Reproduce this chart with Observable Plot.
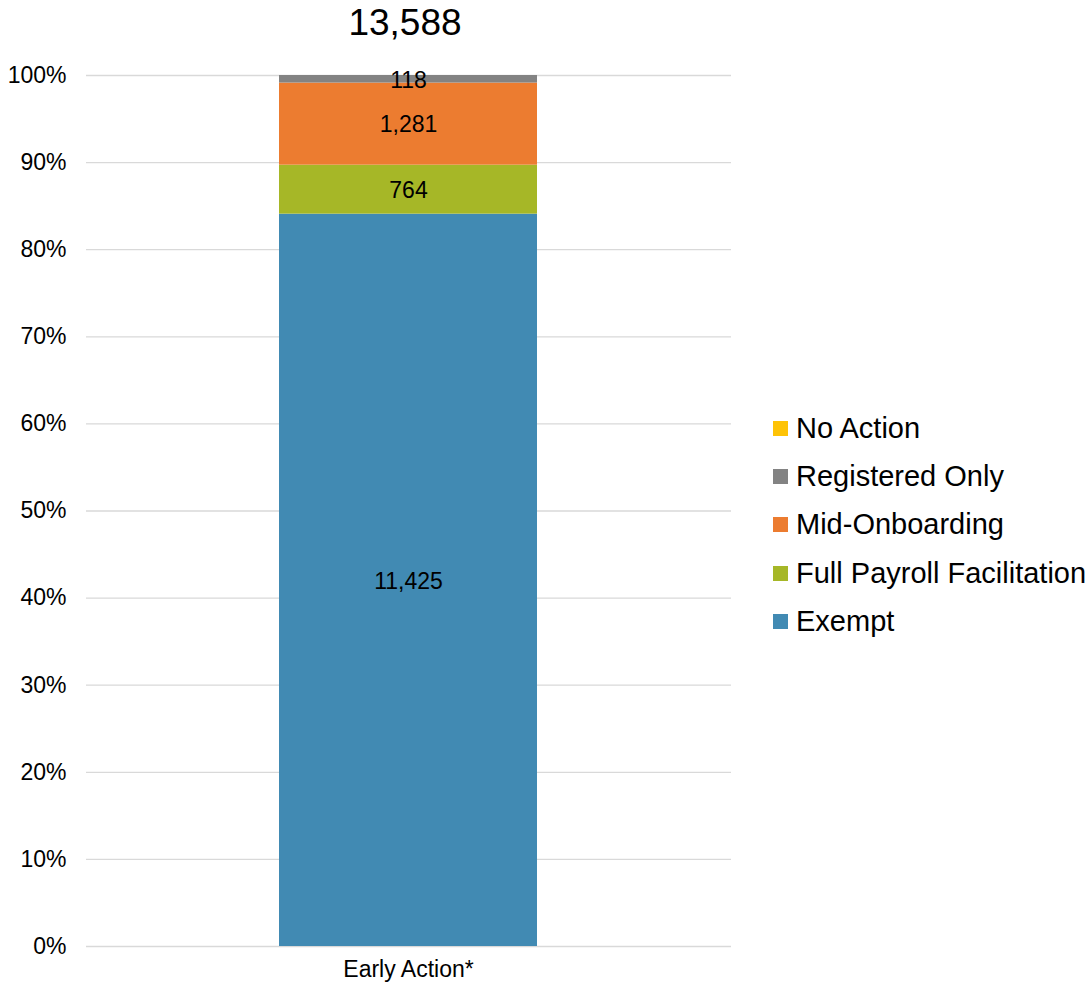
<!DOCTYPE html>
<html><head><meta charset="utf-8">
<script src="https://cdn.jsdelivr.net/npm/d3@7"></script>
<script src="https://cdn.jsdelivr.net/npm/@observablehq/plot@0.6"></script>
<style>
body{margin:0;background:#fff;font-family:"Liberation Sans",Arial,sans-serif;}
#wrap{position:relative;width:1089px;height:987px;}
#title{position:absolute;left:0;width:810px;top:0;text-align:center;font-size:37px;line-height:46px;color:#000;}
#legend{position:absolute;left:773px;top:404px;}
.li{display:flex;align-items:center;height:48.3px;font-size:29px;color:#000;white-space:nowrap;}
.sw{width:15px;height:15px;margin-right:8px;}
svg text{font-family:"Liberation Sans",Arial,sans-serif;}
</style></head>
<body><div id="wrap"><div id="title"></div><div id="chart"></div><div id="legend"></div></div>
<script>
const categories = ["Early Action*"];
const series = ["Exempt", "Full Payroll Facilitation", "Mid-Onboarding", "Registered Only", "No Action"];
const values = [11425, 764, 1281, 118, 0];
const colors = ["#418AB3", "#A6B727", "#EC7C30", "#838383", "#FEC306"];
const yTicks = [0,0.1,0.2,0.3,0.4,0.5,0.6,0.7,0.8,0.9,1];

const total = d3.sum(values);
const data = series.map((s,i)=>({cat:categories[0], series:s, value:values[i], order:i}));
document.getElementById("title").textContent = d3.format(",")(total);

const chart = Plot.plot({
  width:1089, height:987,
  marginLeft:86, marginRight:358, marginTop:75, marginBottom:41,
  style:{fontSize:"23px", fontFamily:"Liberation Sans, Arial, sans-serif", color:"#000", background:"#fff"},
  x:{domain:categories, padding:0.427, label:null, tickSize:0, tickPadding:14},
  y:{domain:[0,1], ticks:yTicks, tickFormat:d=>Math.round(d*100)+"%", label:null, tickSize:0, tickPadding:20},
  color:{domain:series, range:colors},
  marks:[
    Plot.gridY(yTicks,{stroke:"#d9d9d9", strokeOpacity:1, strokeWidth:1.3}),
    Plot.barY(data, Plot.stackY({x:"cat", y:"value", fill:"series", order:series, offset:"normalize"})),
    Plot.text(data, Plot.stackY({x:"cat", y:"value", z:"series", order:series, offset:"normalize",
      text:d=>d.value>0?d3.format(",")(d.value):"", fill:"#000", fontSize:23, dy:1})),
    Plot.axisY({ticks:yTicks, tickFormat:d=>Math.round(d*100)+"%", tickSize:0, tickPadding:20, fontSize:23}),
    Plot.axisX({tickSize:0, tickPadding:14, fontSize:23, label:null})
  ]
});
document.getElementById("chart").appendChild(chart);

const lg = document.getElementById("legend");
series.map((s,i)=>({s,c:colors[i]})).reverse().forEach(({s,c})=>{
  const row=document.createElement("div"); row.className="li";
  const sw=document.createElement("div"); sw.className="sw"; sw.style.background=c;
  const t=document.createElement("span"); t.textContent=s;
  row.appendChild(sw); row.appendChild(t); lg.appendChild(row);
});
</script></body></html>
